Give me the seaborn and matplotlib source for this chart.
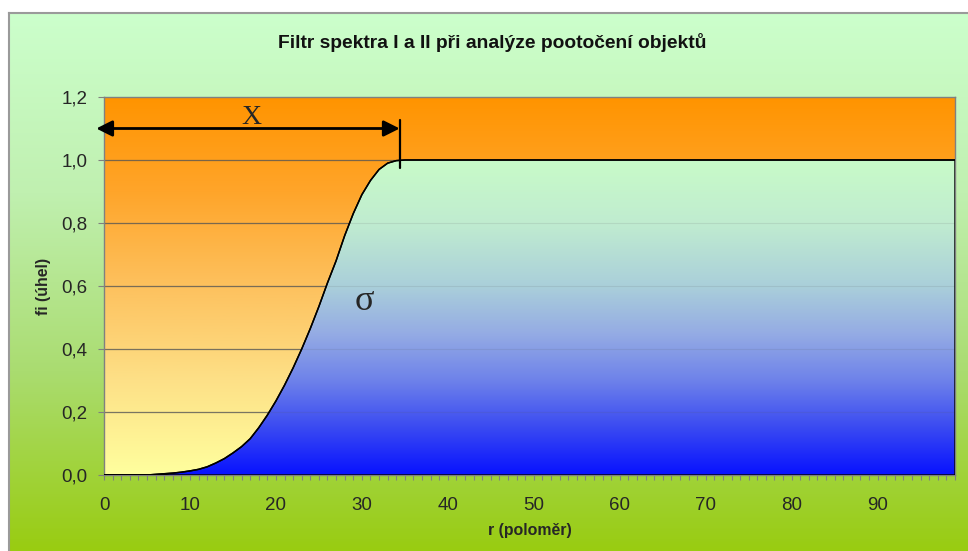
import numpy as np
import matplotlib
matplotlib.use("Agg")
import matplotlib.pyplot as plt
from matplotlib.colors import LinearSegmentedColormap
import seaborn as sns

sns.set_style("ticks")
plt.rcParams["font.family"] = ["Liberation Sans", "DejaVu Sans"]

# filter response: radius r (0..99) and angle weight fi
r = list(range(100))
fi = [0.0, 0.0, 0.0, 0.0, 0.0, 0.0, 0.002, 0.004, 0.006, 0.009,
      0.013, 0.018, 0.026, 0.038, 0.052, 0.07, 0.09, 0.115, 0.15, 0.19,
      0.235, 0.285, 0.34, 0.40, 0.465, 0.535, 0.61, 0.68, 0.76, 0.83,
      0.89, 0.935, 0.97, 0.99, 0.998, 1.0, 1.0, 1.0, 1.0, 1.0,
      1.0, 1.0, 1.0, 1.0, 1.0, 1.0, 1.0, 1.0, 1.0, 1.0,
      1.0, 1.0, 1.0, 1.0, 1.0, 1.0, 1.0, 1.0, 1.0, 1.0,
      1.0, 1.0, 1.0, 1.0, 1.0, 1.0, 1.0, 1.0, 1.0, 1.0,
      1.0, 1.0, 1.0, 1.0, 1.0, 1.0, 1.0, 1.0, 1.0, 1.0,
      1.0, 1.0, 1.0, 1.0, 1.0, 1.0, 1.0, 1.0, 1.0, 1.0,
      1.0, 1.0, 1.0, 1.0, 1.0, 1.0, 1.0, 1.0, 1.0, 1.0]

x_ticks = [0, 10, 20, 30, 40, 50, 60, 70, 80, 90]
y_ticks = [0.0, 0.2, 0.4, 0.6, 0.8, 1.0, 1.2]
y_labels = ["0,0", "0,2", "0,4", "0,6", "0,8", "1,0", "1,2"]

title = "Filtr spektra I a II při analýze pootočení objektů"
x_label = "r (poloměr)"
y_label = "fi (úhel)"

W, H = 968, 551
fig = plt.figure(figsize=(W / 100, H / 100), dpi=100)
fig.patch.set_facecolor("white")

# chart-area background: light green fading to yellow-green
bg = fig.add_axes([9 / W, 0, 1 - 9 / W, 1 - 13 / H], zorder=0)
bg_cmap = LinearSegmentedColormap.from_list(
    "bg", ["#ccffcc", "#c0f0b0", "#aadc70", "#99cc11"])
bg.imshow(np.linspace(0, 1, 256).reshape(-1, 1), cmap=bg_cmap,
          aspect="auto", extent=[0, 1, 0, 1], origin="upper")
bg.set_xlim(0, 1)
bg.set_ylim(0, 1)
bg.set_xticks([])
bg.set_yticks([])
for side in ["right", "bottom"]:
    bg.spines[side].set_visible(False)
for side in ["left", "top"]:
    bg.spines[side].set_color("#9a9a9a")
    bg.spines[side].set_linewidth(1.5)

ax = fig.add_axes([104 / W, 1 - 475 / H, 851 / W, 378 / H], zorder=1)

# plot-area fill: orange at the top to pale yellow at the bottom
orange_cmap = LinearSegmentedColormap.from_list(
    "orange", ["#ff9400", "#ffa52a", "#fdc15e", "#fde087", "#ffff9e"])
ax.imshow(np.linspace(0, 1, 256).reshape(-1, 1), cmap=orange_cmap,
          aspect="auto", extent=[0, 99, 0, 1.2], origin="upper", zorder=0)

# horizontal gridlines
for v in y_ticks[1:-1]:
    ax.axhline(v, color="#555555", lw=0.9, alpha=0.75, zorder=1)

# area under the curve: pale green at 1.0 to deep blue at 0
blue_cmap = LinearSegmentedColormap.from_list(
    "blue", [(0.0, "#c8fbc8"), (0.2, "#c0ecd0"), (0.4, "#aacfda"),
             (0.55, "#95ace4"), (0.7, "#6e82ea"), (0.85, "#3a4af2"),
             (1.0, "#0812ff")])
im = ax.imshow(np.linspace(0, 1, 256).reshape(-1, 1), cmap=blue_cmap,
               aspect="auto", extent=[0, 99, 0, 1.0], origin="upper", zorder=2)
area = ax.fill_between(r, fi, 0, facecolor="none", edgecolor="black",
                       lw=1.0, zorder=3)
im.set_clip_path(area.get_paths()[0], transform=ax.transData)

# faint gridlines visible through the area
for v in y_ticks[1:-1]:
    ax.axhline(v, color="#555555", lw=0.8, alpha=0.12, zorder=2.5)

sns.lineplot(x=r, y=fi, color="black", lw=1.1, ax=ax, zorder=4)

ax.set_xlim(0, 99)
ax.set_ylim(0, 1.2)

ax.set_xticks(x_ticks)
ax.set_xticklabels([str(t) for t in x_ticks])
ax.set_xticks(r, minor=True)
ax.set_yticks(y_ticks)
ax.set_yticklabels(y_labels)
ax.tick_params(axis="x", which="both", direction="out", length=3.5,
               width=0.8, color="#808080", labelsize=13.5, pad=12)
ax.tick_params(axis="y", which="both", direction="out", length=4,
               width=0.8, color="#808080", labelsize=13.5, pad=8)
for side in ["left", "bottom", "top", "right"]:
    ax.spines[side].set_visible(True)
    ax.spines[side].set_color("#808080")
    ax.spines[side].set_linewidth(1.0)

ax.set_xlabel(x_label, fontsize=11.4, fontweight="bold", labelpad=7)
ax.set_ylabel(y_label, fontsize=11.4, fontweight="bold", labelpad=7)

fig.text(492 / W, 1 - 42 / H, title, ha="center", va="center",
         fontsize=13.9, fontweight="bold", color="#111111")

# width marker X: double arrow up to the end of the transition
ax.annotate("", xy=(-0.9, 1.1), xytext=(34.4, 1.1),
            arrowprops=dict(arrowstyle="<|-|>", color="black", lw=2,
                            mutation_scale=24, shrinkA=0, shrinkB=0),
            annotation_clip=False, zorder=6)
ax.plot([34.4, 34.4], [0.975, 1.127], color="black", lw=1.6, zorder=6,
        clip_on=False)
ax.text(17.2, 1.135, "X", family=["Liberation Serif", "DejaVu Serif"],
        fontsize=20, ha="center", va="center", zorder=6)
ax.text(30.3, 0.55, "σ", family=["Liberation Serif", "DejaVu Serif"],
        fontsize=26, ha="center", va="center", zorder=6)

fig.savefig("out.png", dpi=100)
